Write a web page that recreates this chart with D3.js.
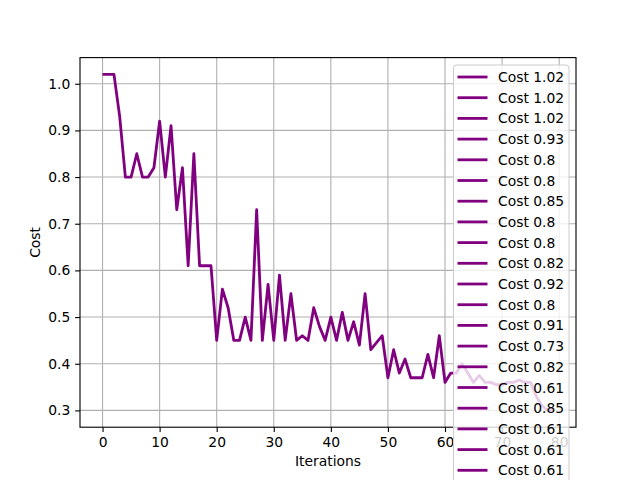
<!DOCTYPE html>
<html><head><meta charset="utf-8">
<script src="https://cdn.jsdelivr.net/npm/d3@7"></script>
<style>body{margin:0;background:#fff}svg{display:block;font-family:"DejaVu Sans",sans-serif}</style>
</head><body>
<svg id="c" width="640" height="480"></svg>
<script>
const iterations = d3.range(80);
const costs = [1.02,1.02,1.02,0.93,0.80,0.80,0.85,0.80,0.80,0.82,0.92,0.80,0.91,0.73,0.82,0.61,0.85,0.61,0.61,0.61,
0.45,0.56,0.52,0.45,0.45,0.50,0.45,0.73,0.45,0.57,0.45,0.59,0.45,0.55,0.45,0.46,0.45,0.52,0.48,0.45,
0.50,0.45,0.51,0.45,0.49,0.44,0.55,0.43,0.445,0.46,0.37,0.43,0.38,0.41,0.37,0.37,0.37,0.42,0.37,0.46,
0.36,0.38,0.38,0.40,0.38,0.36,0.375,0.36,0.36,0.355,0.355,0.36,0.36,0.365,0.36,0.36,0.33,0.31,0.30,0.30];
const xTicks = [0,10,20,30,40,50,60,70,80];
const yTicks = [0.3,0.4,0.5,0.6,0.7,0.8,0.9,1.0];
const legendLabels = costs.map(v => "Cost " + String(+v.toFixed(2)));

const W = 640, H = 480;
const svg = d3.select("#c");
const L = 80, R = 576, T = 57.6, B = 427.2;
const xmin = d3.min(iterations), xmax = d3.max(iterations);
const ymin = d3.min(costs), ymax = d3.max(costs);
const xm = (xmax - xmin) * 0.05, ym = (ymax - ymin) * 0.05;
const x = d3.scaleLinear().domain([xmin - xm, xmax + xm]).range([L, R]);
const y = d3.scaleLinear().domain([ymin - ym, ymax + ym]).range([B, T]);
const fs = 13.89;

// grid
const g = svg.append("g");
g.selectAll(".gx").data(xTicks.filter(t => x(t) <= R)).join("line")
  .attr("x1", d => x(d)).attr("x2", d => x(d)).attr("y1", T).attr("y2", B)
  .attr("stroke", "#b0b0b0").attr("stroke-width", 1.11);
g.selectAll(".gy").data(yTicks).join("line")
  .attr("y1", d => y(d)).attr("y2", d => y(d)).attr("x1", L).attr("x2", R)
  .attr("stroke", "#b0b0b0").attr("stroke-width", 1.11);

// axes via d3
const xAxis = d3.axisBottom(x).tickValues(xTicks).tickSize(4.86).tickPadding(4.86).tickFormat(d3.format("d"));
const yAxis = d3.axisLeft(y).tickValues(yTicks).tickSize(4.86).tickPadding(4.86).tickFormat(d3.format(".1f"));
const ax = svg.append("g").attr("transform", `translate(0,${B})`).call(xAxis);
const ay = svg.append("g").attr("transform", `translate(${L},0)`).call(yAxis);
[ax, ay].forEach(a => {
  a.select(".domain").remove();
  a.selectAll(".tick line").attr("stroke", "#000").attr("stroke-width", 1.11);
  a.selectAll(".tick text").attr("fill", "#000").attr("font-size", fs).attr("font-family", "DejaVu Sans");
});
ax.selectAll(".tick text").attr("dy", "0.71em");

// line
const line = d3.line().x((d, i) => x(iterations[i])).y(d => y(d));
svg.append("path").datum(costs).attr("d", line).attr("fill", "none")
  .attr("stroke", "#800080").attr("stroke-width", 2.8).attr("stroke-linejoin", "round").attr("stroke-linecap", "butt");

// spines
svg.append("rect").attr("x", L).attr("y", T).attr("width", R - L).attr("height", B - T)
  .attr("fill", "none").attr("stroke", "#000").attr("stroke-width", 1.11);

// labels
svg.append("text").attr("x", (L + R) / 2).attr("y", 466).attr("text-anchor", "middle")
  .attr("font-size", fs).text("Iterations");
svg.append("text").attr("transform", `translate(40,${(T + B) / 2}) rotate(-90)`).attr("text-anchor", "middle")
  .attr("font-size", fs).text("Cost");

// legend (one entry per point; entries below the figure edge are not drawn)
const lg = svg.append("g");
const lx = 453.5, ly = 65, lw = 115.5, rowH = 20.7;
lg.append("rect").attr("x", lx).attr("y", ly).attr("width", lw).attr("height", rowH * costs.length + 10)
  .attr("rx", 3).attr("fill", "#fff").attr("fill-opacity", 0.8).attr("stroke", "#cccccc").attr("stroke-width", 1);
const visible = legendLabels.map((d, i) => ({label: d, i})).filter(e => ly + 12 + e.i * rowH < H + 5);
const rows = lg.selectAll(".row").data(visible).join("g")
  .attr("transform", e => `translate(0,${ly + 12 + e.i * rowH})`);
rows.append("line").attr("x1", 457.5).attr("x2", 487.5).attr("y1", 0).attr("y2", 0)
  .attr("stroke", "#800080").attr("stroke-width", 2.8);
rows.append("text").attr("x", 498).attr("y", 0).attr("dy", "0.36em").attr("font-size", fs).attr("fill", "#000").text(e => e.label);
</script>
</body></html>
